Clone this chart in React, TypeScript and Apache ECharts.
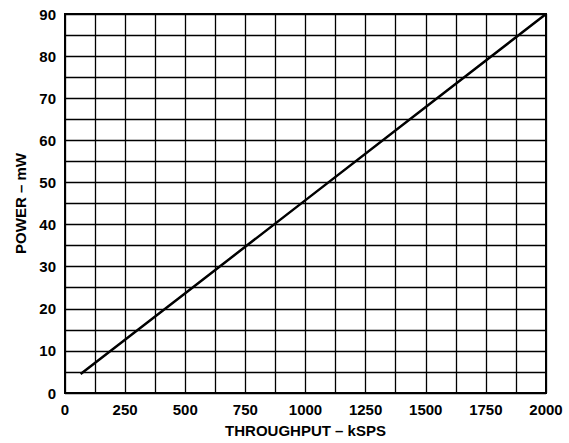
import React, { useEffect, useRef } from "react";
import * as echarts from "echarts";

// Power consumption versus throughput
const throughputKsps = [65, 500, 1000, 1500, 2000];
const powerMw = [4.5, 23.7, 45.8, 67.9, 90];

const xTicks = [0, 250, 500, 750, 1000, 1250, 1500, 1750, 2000];
const yTicks = [0, 10, 20, 30, 40, 50, 60, 70, 80, 90];

const FONT = "'Liberation Sans', Arial, Helvetica, sans-serif";

export default function App() {
  const ref = useRef<HTMLDivElement>(null);

  useEffect(() => {
    if (!ref.current) return;
    const chart = echarts.init(ref.current, undefined, { renderer: "svg" });
    chart.setOption({
      animation: false,
      backgroundColor: "#ffffff",
      grid: {
        left: 65,
        right: 23,
        top: 14,
        bottom: 46,
        show: true,
        borderColor: "#000",
        borderWidth: 2,
        containLabel: false,
      },
      xAxis: {
        type: "value",
        min: 0,
        max: 2000,
        interval: 125,
        name: "THROUGHPUT – kSPS",
        nameLocation: "middle",
        nameGap: 30,
        nameTextStyle: { fontFamily: FONT, fontWeight: "bold", fontSize: 15, color: "#000" },
        axisLine: { show: true, lineStyle: { color: "#000", width: 2 } },
        axisTick: { show: false },
        axisLabel: {
          fontFamily: FONT,
          fontWeight: "bold",
          fontSize: 15,
          color: "#000",
          margin: 9,
          formatter: (v: number) => (xTicks.includes(v) ? String(v) : ""),
        },
        splitLine: { show: true, lineStyle: { color: "#000", width: 1.3 } },
      },
      yAxis: {
        type: "value",
        min: 0,
        max: 90,
        interval: 5,
        name: "POWER – mW",
        nameLocation: "middle",
        nameGap: 34,
        nameTextStyle: { fontFamily: FONT, fontWeight: "bold", fontSize: 15, color: "#000" },
        axisLine: { show: true, lineStyle: { color: "#000", width: 2 } },
        axisTick: { show: false },
        axisLabel: {
          fontFamily: FONT,
          fontWeight: "bold",
          fontSize: 15,
          color: "#000",
          margin: 9,
          formatter: (v: number) => (yTicks.includes(v) ? String(v) : ""),
        },
        splitLine: { show: true, lineStyle: { color: "#000", width: 1.3 } },
      },
      series: [
        {
          type: "line",
          data: throughputKsps.map((x, i) => [x, powerMw[i]]),
          showSymbol: false,
          lineStyle: { color: "#000", width: 2.5 },
        },
      ],
    });
    return () => chart.dispose();
  }, []);

  return <div ref={ref} style={{ width: 569, height: 443, position: "absolute", left: 0, top: 0 }} />;
}
